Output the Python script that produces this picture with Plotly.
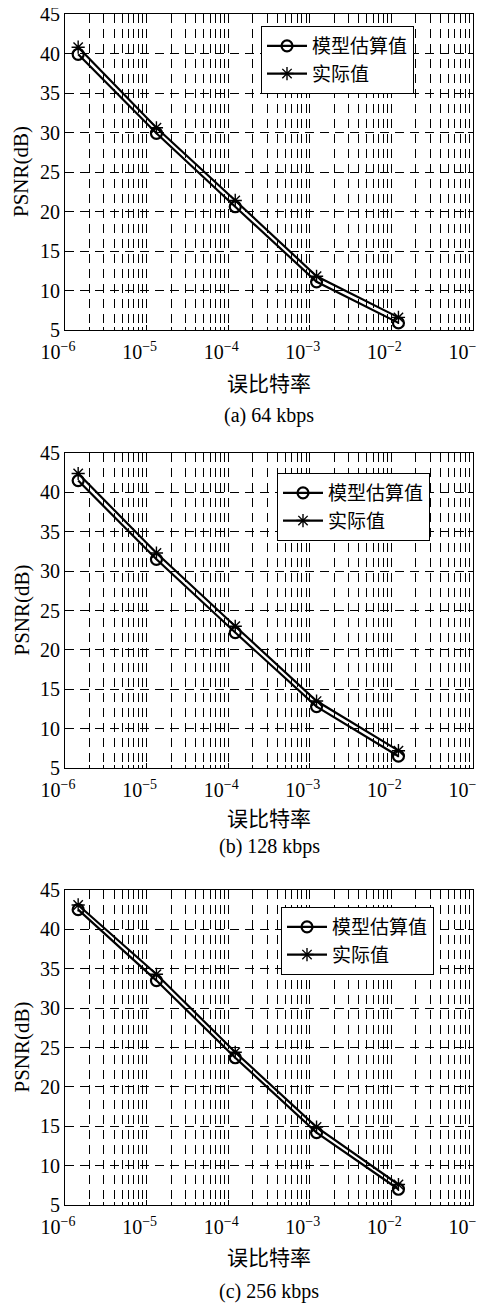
import plotly.graph_objects as go

# ---------------- data ----------------
ber = [1.45e-6, 1.32e-5, 1.22e-4, 1.21e-3, 1.22e-2]

model_64 = [39.9, 29.9, 20.6, 11.1, 5.9]
actual_64 = [40.8, 30.6, 21.4, 11.8, 6.6]

model_128 = [41.5, 31.5, 22.2, 12.8, 6.5]
actual_128 = [42.4, 32.3, 23.0, 13.5, 7.2]

model_256 = [42.5, 33.5, 23.7, 14.2, 7.0]
actual_256 = [43.1, 34.3, 24.4, 14.9, 7.6]

captions = ["(a) 64 kbps", "(b) 128 kbps", "(c) 256 kbps"]
series_names = ["模型估算值", "实际值"]
xtitle = "误比特率"
ytitle = "PSNR(dB)"
ytick_vals = [5, 10, 15, 20, 25, 30, 35, 40, 45]
decades = [-6, -5, -4, -3, -2, -1]

# ---------------- layout helpers (page pixel coordinates) ----------------
PAGE_W, PAGE_H = 485, 1303
OFF = 8  # default body margin of the html page
W, H = PAGE_W - OFF, PAGE_H - OFF
XL, XR = 65, 473
panels_px = [(14, 330), (453, 768), (890, 1205)]
legend_px = [(261, 26), (277, 473), (281, 907)]
xtitle_px = [382, 817, 1256]
caption_px = [415, 847, 1291]


def py(p):
    return 1 - (p - OFF) / H


def px(p):
    return (p - OFF) / W


SERIF = "Liberation Serif, Times New Roman, serif"
CJK = "Noto Sans CJK SC"

tvals = [10.0 ** d for d in decades]
ttext = ["10<sup>−%d</sup>" % (-d) for d in decades]

fig = go.Figure()
data = [(model_64, actual_64), (model_128, actual_128), (model_256, actual_256)]

for i, (mod, act) in enumerate(data):
    n = "" if i == 0 else str(i + 1)
    xa, ya = "x" + n, "y" + n
    leg = "legend" + n
    fig.add_trace(go.Scatter(
        x=ber, y=mod, mode="lines+markers", name=series_names[0],
        xaxis=xa, yaxis=ya, legend=leg,
        line=dict(color="black", width=2.2),
        marker=dict(symbol="circle-open", size=11, color="black",
                    line=dict(width=2.2, color="black")),
    ))
    fig.add_trace(go.Scatter(
        x=ber, y=act, mode="lines+markers", name=series_names[1],
        xaxis=xa, yaxis=ya, legend=leg,
        line=dict(color="black", width=2.2),
        marker=dict(symbol="asterisk-open", size=11, color="black",
                    line=dict(width=1.4, color="black")),
    ))

    top, bot = panels_px[i]
    grid = dict(showgrid=True, gridcolor="black", gridwidth=1, griddash="9px,6px")
    axis_common = dict(
        showline=True, linecolor="black", linewidth=1.2, mirror="ticks",
        ticks="inside", ticklen=5, tickcolor="black",
        zeroline=False, automargin=False, ticklabeloverflow="allow",
        **grid,
    )
    fig.layout["xaxis" + n] = dict(
        type="log", domain=[px(XL), px(XR)], anchor=ya,
        range=[-6, -1], tickmode="array", tickvals=tvals, ticktext=ttext,
        tickfont=dict(family=SERIF, size=20, color="black"),
        ticklabelshift=-7, ticklabelstandoff=4,
        minor=dict(dtick="D1", ticks="inside", ticklen=3, tickcolor="black",
                   **grid),
        **axis_common,
    )
    fig.layout["yaxis" + n] = dict(
        domain=[py(bot), py(top)], anchor=xa, range=[5, 45],
        tickmode="array", tickvals=ytick_vals,
        tickfont=dict(family=SERIF, size=20, color="black"),
        **axis_common,
    )
    lx, ly = legend_px[i]
    fig.layout[leg] = dict(
        x=px(lx), y=py(ly), xanchor="left", yanchor="top",
        bgcolor="white", bordercolor="black", borderwidth=1,
        font=dict(family=CJK, size=19, color="black"),
        tracegroupgap=0, itemwidth=40,
    )
    # y-axis title
    fig.add_annotation(
        x=px(21), y=py((top + bot) / 2), xref="paper", yref="paper",
        text=ytitle, textangle=-90, showarrow=False,
        xanchor="center", yanchor="middle",
        font=dict(family=SERIF, size=21, color="black"),
    )
    # x-axis title
    fig.add_annotation(
        x=px((XL + XR) / 2), y=py(xtitle_px[i]), xref="paper", yref="paper",
        text=xtitle, showarrow=False, xanchor="center", yanchor="middle",
        font=dict(family=CJK, size=21, color="black"),
    )
    # caption
    fig.add_annotation(
        x=px((XL + XR) / 2), y=py(caption_px[i]), xref="paper", yref="paper",
        text=captions[i], showarrow=False, xanchor="center", yanchor="middle",
        font=dict(family=SERIF, size=20, color="black"),
    )

fig.update_layout(
    width=W, height=H, margin=dict(l=0, r=0, t=0, b=0),
    paper_bgcolor="white", plot_bgcolor="white", showlegend=True,
)

fig.write_html("out.html")
